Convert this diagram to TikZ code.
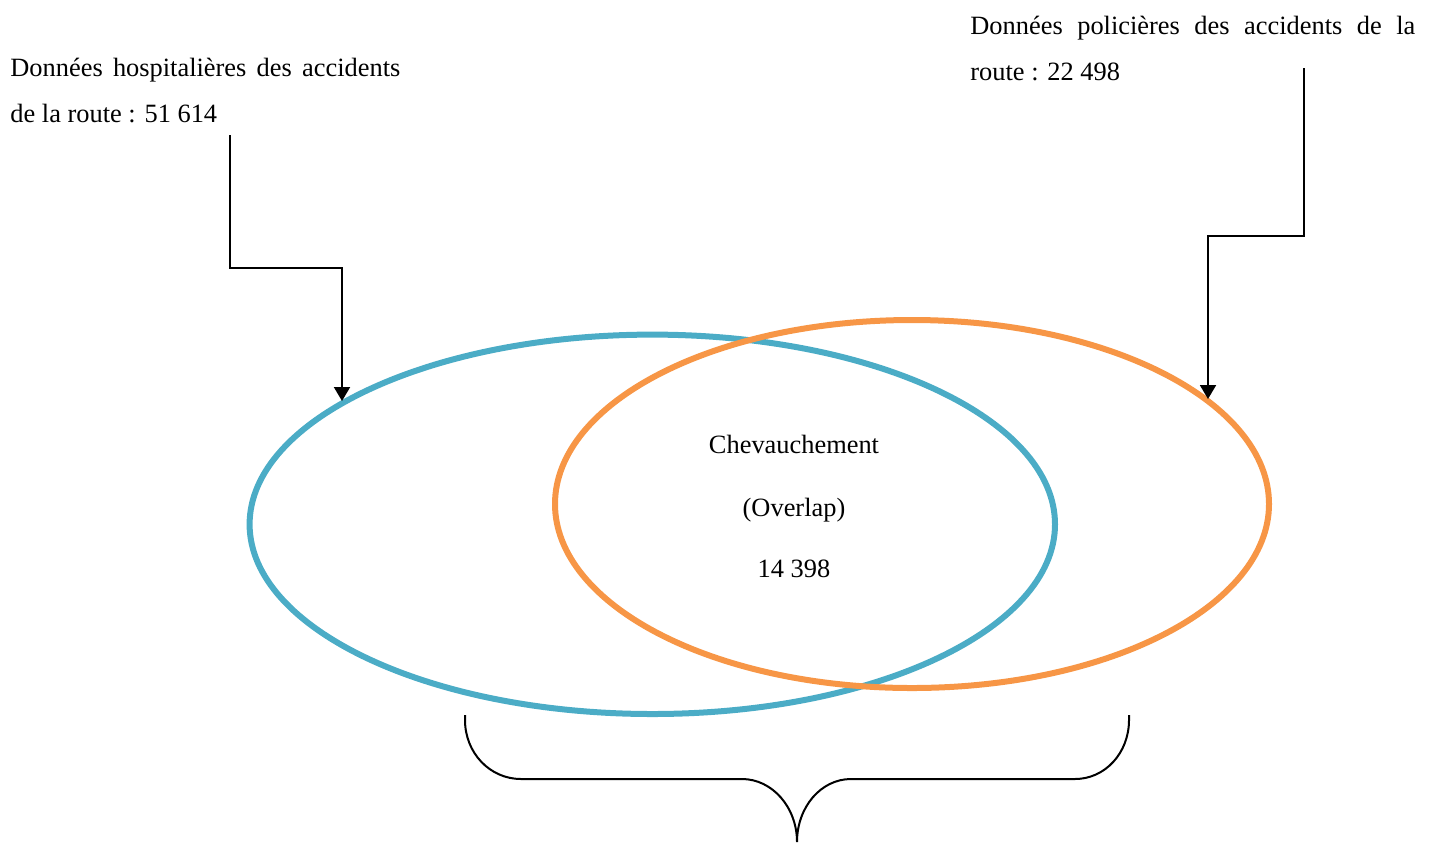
\documentclass[tikz,border=0pt]{standalone}
\usepackage{fontspec}
\setmainfont{Liberation Serif}
\usetikzlibrary{arrows.meta}
\definecolor{vennblue}{HTML}{4BACC6}
\definecolor{vennorange}{HTML}{F79646}
\tikzset{
  lbl/.style={font=\fontsize{13.2pt}{16pt}\selectfont, inner sep=0pt, anchor=base west},
  clbl/.style={font=\fontsize{13.2pt}{16pt}\selectfont, inner sep=0pt, anchor=base},
  arr/.style={line width=1pt, -{Triangle[length=7pt,width=8pt]}},
  setline/.style={line width=3pt},
  bracel/.style={line width=1pt},
}
\begin{document}
\begin{tikzpicture}[x=0.5pt,y=-0.5pt]
\useasboundingbox (0,0) rectangle (1433,842);
% texts
\node[lbl] (h1) at (10,76) {\makebox[195pt][s]{Données hospitalières des accidents}};
\node[lbl] (h2) at (10,122) {de la route : 51 614};
\node[lbl] (p1) at (970,34) {\makebox[222.5pt][s]{Données policières des accidents de la}};
\node[lbl] (p2) at (970,80) {route : 22 498};
% sets
\draw[setline, vennblue] (652.3,524.3) ellipse [x radius=402.7, y radius=189.7];
\draw[setline, vennorange] (912,504) ellipse [x radius=357, y radius=184];
\node[clbl] (c1) at (794,453) {Chevauchement};
\node[clbl] (c2) at (794,516) {(Overlap)};
\node[clbl] (c3) at (794,577) {14 398};
% arrows
\coordinate (hs) at (230,135);
\coordinate (hk) at (342,268);
\coordinate (he) at (342,401);
\coordinate (ps) at (1304,68);
\coordinate (pk) at (1208,236);
\coordinate (pe) at (1208,399);
\draw[arr] (hs) |- (hk) -- (he);
\draw[arr] (ps) |- (pk) -- (pe);
% brace
\coordinate (bl) at (465,715);
\coordinate (br) at (1129,715);
\coordinate (bt) at (797,842);
\draw[bracel] (bl) -- (465,720) .. controls (465,753) and (490,779) .. (521,779)
  -- (742,779) .. controls (772,779) and (797,807) .. (bt)
  .. controls (797,807) and (821,779) .. (851,779)
  -- (1075,779) .. controls (1105,779) and (1129,753) .. (1129,720) -- (br);
\end{tikzpicture}
\end{document}
